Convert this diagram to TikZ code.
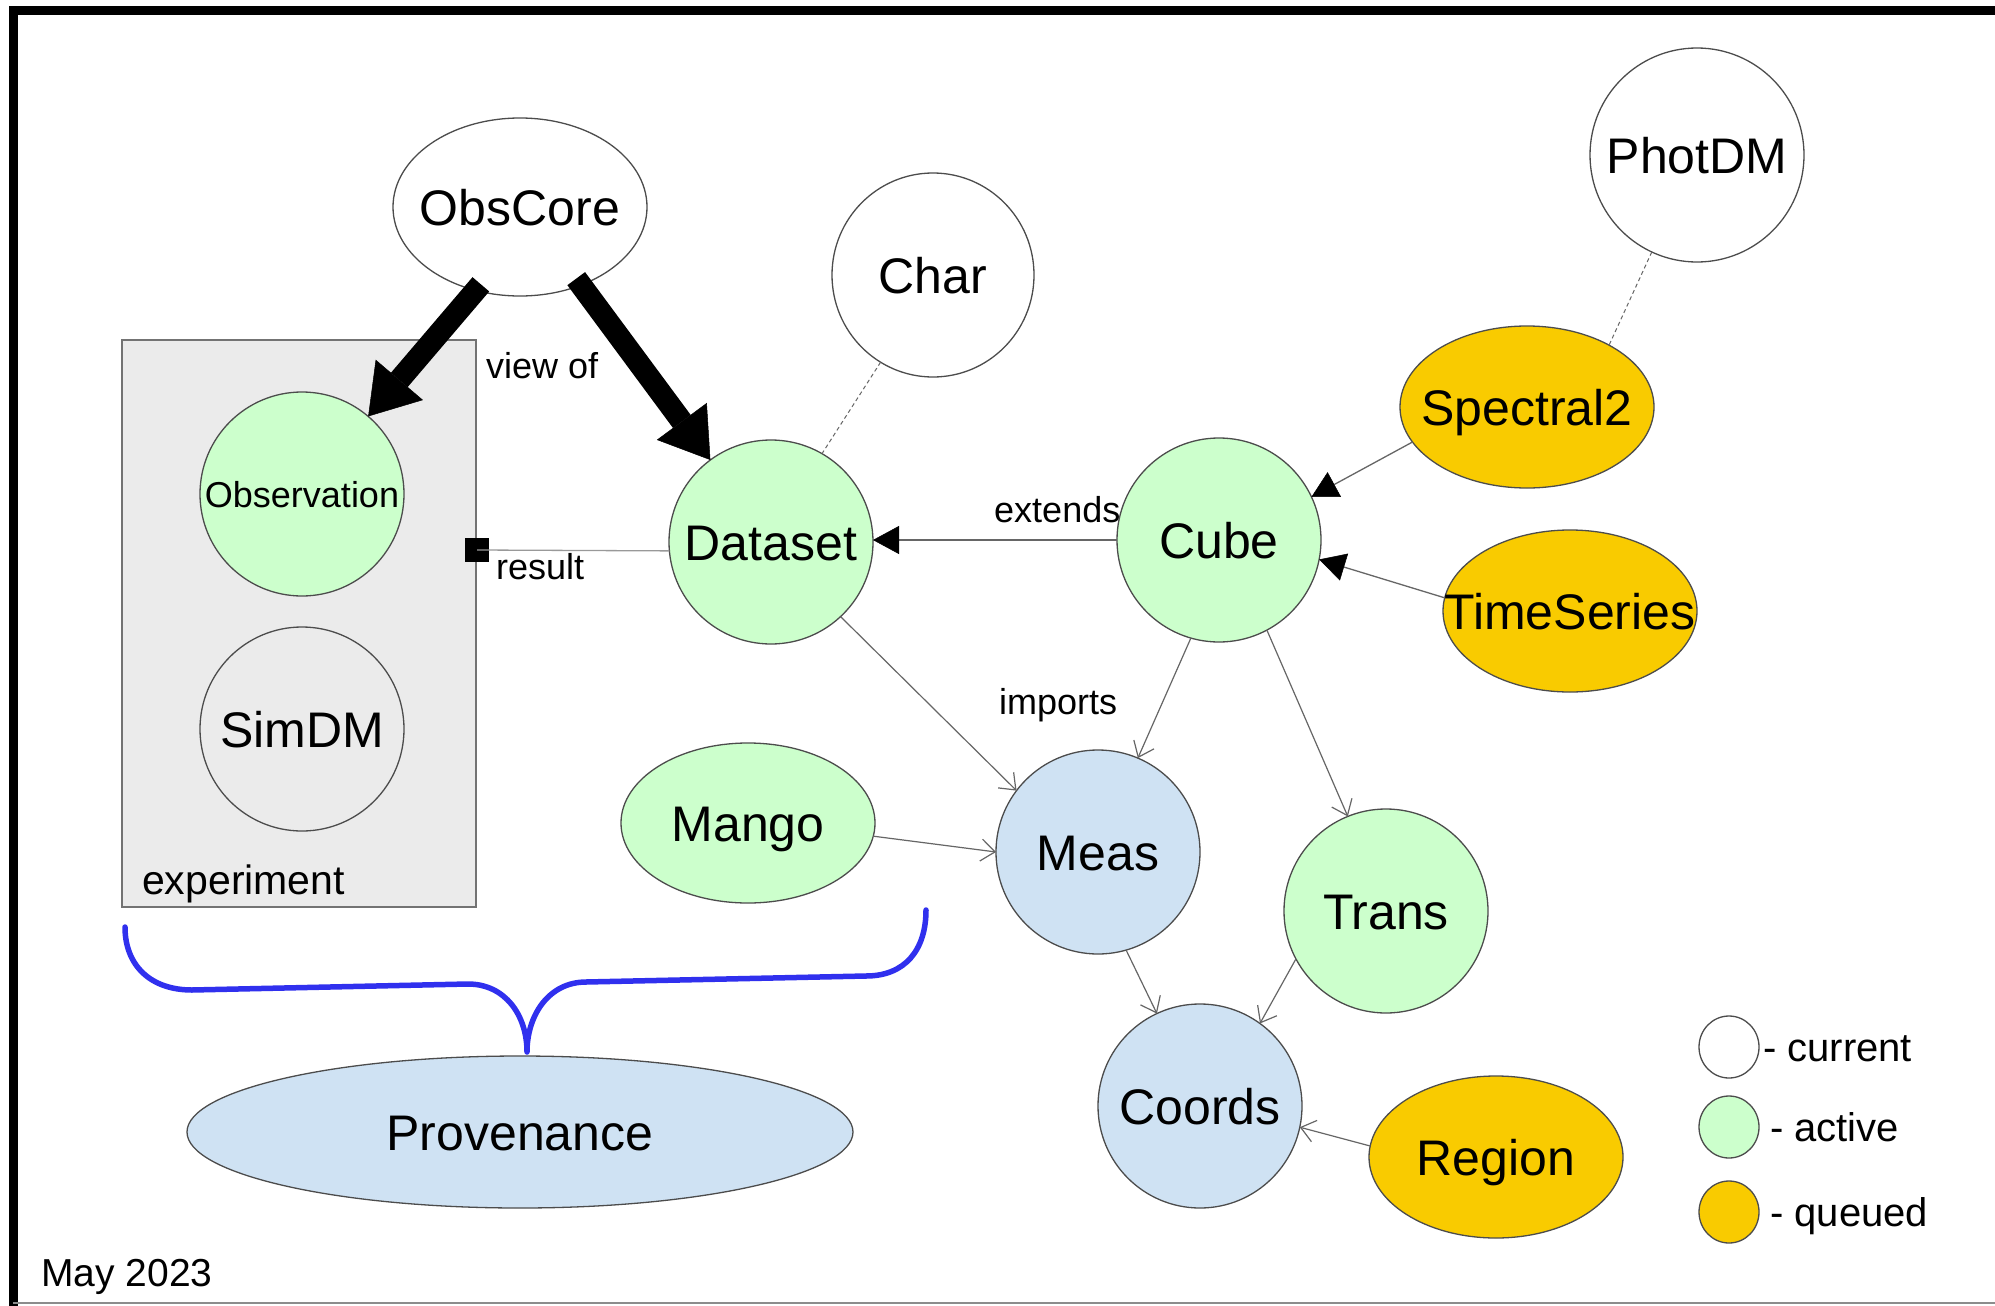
\documentclass[tikz,border=0pt]{standalone}
\usepackage{fontspec}
\setmainfont{Liberation Sans}
\usetikzlibrary{shapes.geometric,arrows.meta}
\definecolor{actgreen}{HTML}{CCFFCC}
\definecolor{lblue}{HTML}{CFE2F3}
\definecolor{qyellow}{HTML}{F9CB00}
\definecolor{boxgray}{HTML}{EBEBEB}
\definecolor{bracecol}{HTML}{3030EE}
\definecolor{linegray}{HTML}{666666}
\begin{document}
\begin{tikzpicture}[x=1pt,y=-1pt,
  mnode/.style={ellipse, draw=black!70, line width=1.3pt, inner sep=0pt, outer sep=0pt},
  cur/.style={mnode, fill=white},
  act/.style={mnode, fill=actgreen},
  msr/.style={mnode, fill=lblue},
  que/.style={mnode, fill=qyellow},
  sz/.style 2 args={minimum width=#1pt, minimum height=#2pt},
  big/.style={font=\fontsize{50}{56}\selectfont, inner sep=0pt, text height=36pt, text depth=0pt},
  small/.style={font=\fontsize{36}{40}\selectfont, inner sep=0pt, anchor=west, text height=26pt, text depth=0pt},
  legtxt/.style={font=\fontsize{40}{44}\selectfont, inner sep=0pt, anchor=west, text height=29pt, text depth=0pt},
  fat/.style={line width=22pt, -{Triangle[length=48pt,width=62pt,line width=0.5pt]}},
  ext/.style={draw=linegray, line width=1.3pt, -{Triangle[length=26pt,width=28pt,line width=0.5pt,color=black,fill=black]}},
  imp/.style={draw=linegray, line width=1.2pt, -{Straight Barb[length=14pt,width=22pt,line width=1.2pt]}},
  dep/.style={draw=linegray, line width=1pt, dash pattern=on 4pt off 3pt},
]
\useasboundingbox (0,0) rectangle (1995,1306);
\fill[white] (0,0) rectangle (1995,1306);
% frame
\draw[line width=9pt, line join=miter] (13,1306) -- (13,11) -- (1995,11);
\draw[line width=2pt, draw=black!45] (13,1303) -- (1995,1303);

% experiment box
\node[rectangle, draw=black!55, line width=1.3pt, fill=boxgray, minimum width=354pt, minimum height=567pt, inner sep=0pt] (exp) at (299,623.5) {};
\node[font=\fontsize{41}{46}\selectfont, inner sep=0pt, anchor=west, text height=29pt, text depth=0pt] (expL) at (142,880) {experiment};

% nodes
\node[cur, sz={254}{178}] (obscore) at (520,207) {};
\node[big] (obscoreL) at (obscore) {ObsCore};
\node[cur, sz={202}{204}] (char) at (933,275) {};
\node[big] (charL) at (char) {Char};
\node[cur, sz={214}{214}] (photdm) at (1697,155) {};
\node[big] (photdmL) at (photdm) {PhotDM};
\node[act, sz={204}{204}] (obs) at (302,494) {};
\node[font=\fontsize{36}{40}\selectfont, inner sep=0pt, text height=26pt, text depth=0pt] (obsL) at (obs) {Observation};
\node[mnode, fill=boxgray, sz={204}{204}] (simdm) at (302,729) {};
\node[big] (simdmL) at (simdm) {SimDM};
\node[act, sz={204}{204}] (dataset) at (771,542) {};
\node[big] (datasetL) at (dataset) {Dataset};
\node[act, sz={204}{204}] (cube) at (1219,540) {};
\node[big] (cubeL) at (cube) {Cube};
\node[que, sz={254}{162}] (spec) at (1527,407) {};
\node[big] (specL) at (spec) {Spectral2};
\node[que, sz={254}{162}] (ts) at (1570,611) {};
\node[big] (tsL) at (ts) {TimeSeries};
\node[act, sz={254}{160}] (mango) at (748,823) {};
\node[big] (mangoL) at (mango) {Mango};
\node[msr, sz={204}{204}] (meas) at (1098,852) {};
\node[big] (measL) at (meas) {Meas};
\node[act, sz={204}{204}] (trans) at (1386,911) {};
\node[big] (transL) at (trans) {Trans};
\node[msr, sz={204}{204}] (coords) at (1200,1106) {};
\node[big] (coordsL) at (coords) {Coords};
\node[que, sz={254}{162}] (region) at (1496,1157) {};
\node[big] (regionL) at (region) {Region};
\node[msr, sz={666}{152}] (prov) at (520,1132) {};
\node[big] (provL) at (prov) {Provenance};

% legend
\node[cur, sz={60}{62}] (lcur) at (1729,1047) {};
\node[act, sz={60}{62}] (lact) at (1729,1127) {};
\node[que, sz={60}{62}] (lque) at (1729,1212) {};
\node[legtxt] (lcurL) at (1763,1047) {- current};
\node[legtxt] (lactL) at (1770,1127) {- active};
\node[legtxt] (lqueL) at (1770,1212) {- queued};

% result link
\node[rectangle, fill=black, minimum size=24pt, inner sep=0pt] (resq) at (477,550) {};
\draw[draw=black!40, line width=1.3pt] (resq.center) -- (dataset.185);
\node[small] (resultL) at (496,566) {result};

% view of
\draw[fat, shorten <=-8pt] (obscore.242) -- (obs);
\draw[fat, shorten <=-8pt] (obscore.308) -- (dataset);
\node[small] (viewL) at (486,365) {view of};

% extends
\draw[ext] (cube.west) -- (cube.west -| dataset.east);
\draw[ext] (spec.197) -- (cube.25);
\draw[ext] (ts.174) -- (cube.349);
\node[small] (extL) at (994,509) {extends};

% dashed links
\draw[dep] (char.239) -- (dataset.60);
\draw[dep] (photdm.245) -- (spec.37);

% imports
\draw[imp] (dataset.313) -- (meas.143);
\draw[imp] (cube.254) -- (meas.67);
\draw[imp] (cube.298) -- (trans.112);
\draw[imp] (mango.354) -- (meas.180);
\draw[imp] (meas.286) -- (coords.115);
\draw[imp] (trans.208) -- (coords.54);
\draw[imp] (region.175) -- (coords.348);
\node[small] (impL) at (999,701) {imports};

% brace
\draw[bracecol, line width=5.5pt, line cap=round, line join=round]
  (125,927) .. controls (125,965) and (150,990) .. (192,990)
  -- (468,984) .. controls (505,984) and (527,1015) .. (527,1052)
  .. controls (527,1015) and (549,982) .. (586,982)
  -- (866,976) .. controls (905,976) and (926,950) .. (926,910);

\node[font=\fontsize{39}{44}\selectfont, inner sep=0pt, anchor=west, text height=28pt, text depth=0pt] (dateL) at (41,1272) {May 2023};
\end{tikzpicture}
\end{document}
